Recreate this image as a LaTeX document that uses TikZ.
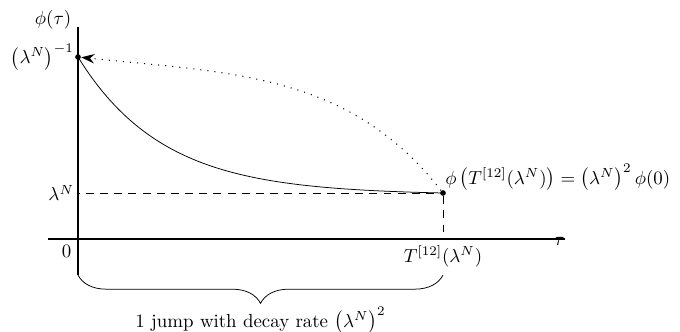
\documentclass[tikz,border=0pt]{standalone}
\usepackage{amsmath}
\usepackage{tikz}
\usetikzlibrary{arrows.meta, positioning, decorations.pathreplacing}

\begin{document}
\begin{tikzpicture}[x=0.0186cm, y=0.0186cm,
  axis/.style={semithick},
  dot/.style={circle, fill, inner sep=0pt, minimum size=3pt},
  guide/.style={dash pattern=on 4.2pt off 3.3pt},
  jump/.style={line width=0.55pt, dash pattern=on 0.55pt off 3.2pt, -{Stealth[length=7pt, width=5pt]}},
]
  \useasboundingbox (-78,-92) rectangle (602,239);

  % axes
  \coordinate (o) at (0,0);
  \coordinate (ytop) at (0,212);
  \coordinate (ybot) at (0,-36);
  \coordinate (xl) at (-30,0);
  \coordinate (xr) at (487,0);
  \draw[axis] (ybot) -- (ytop);
  \draw[axis] (xl) -- (xr);
  \node[left] (ylab) at (0,219) {$\phi(\tau)$};
  \node[below left, inner sep=0pt] (xlab) at ([yshift=1pt]xr) {$\tau$};
  \node[below left] (zero) at (o) {$0$};

  % start and end of the jump
  \node[dot] (top) at (0,182) {};
  \node[dot] (fin) at (365,46) {};
  \coordinate (ylam) at (0,46);
  \coordinate (tx) at (365,0);
  \node[left, inner sep=2pt] (lamlab) at (ylam) {$\lambda^N$};
  \node[left, inner sep=2pt] (toplab) at (top) {$\left(\lambda^N\right)^{-1}$};
  \node[below] (txlab) at (tx) {$T^{[12]}(\lambda^N)$};
  \node[anchor=south west, inner sep=1pt] (finlab) at (fin)
    {$\phi\left(T^{[12]}(\lambda^N)\right)=\left(\lambda^N\right)^2\phi(0)$};

  \draw[guide, dash phase=3.3pt] (ylam) -- (fin);
  \draw[guide] (fin) -- (tx);

  % decay between the jumps
  \draw plot[domain=0:365, samples=90]
    (\x, {46 + 136*(exp(-\x/85) - exp(-365/85))/(1 - exp(-365/85))});
  \draw[jump] (fin) to[out=128, in=-6] (top);

  % brace under the time axis
  \coordinate (bl) at (0,-36);
  \coordinate (br) at (365,-36);
  \draw[decorate, decoration={brace, mirror, amplitude=15pt}] (bl) -- (br)
    node[midway, below=13.5pt] (bracelab) {1 jump with decay rate $\left(\lambda^N\right)^2$};
\end{tikzpicture}
\end{document}
